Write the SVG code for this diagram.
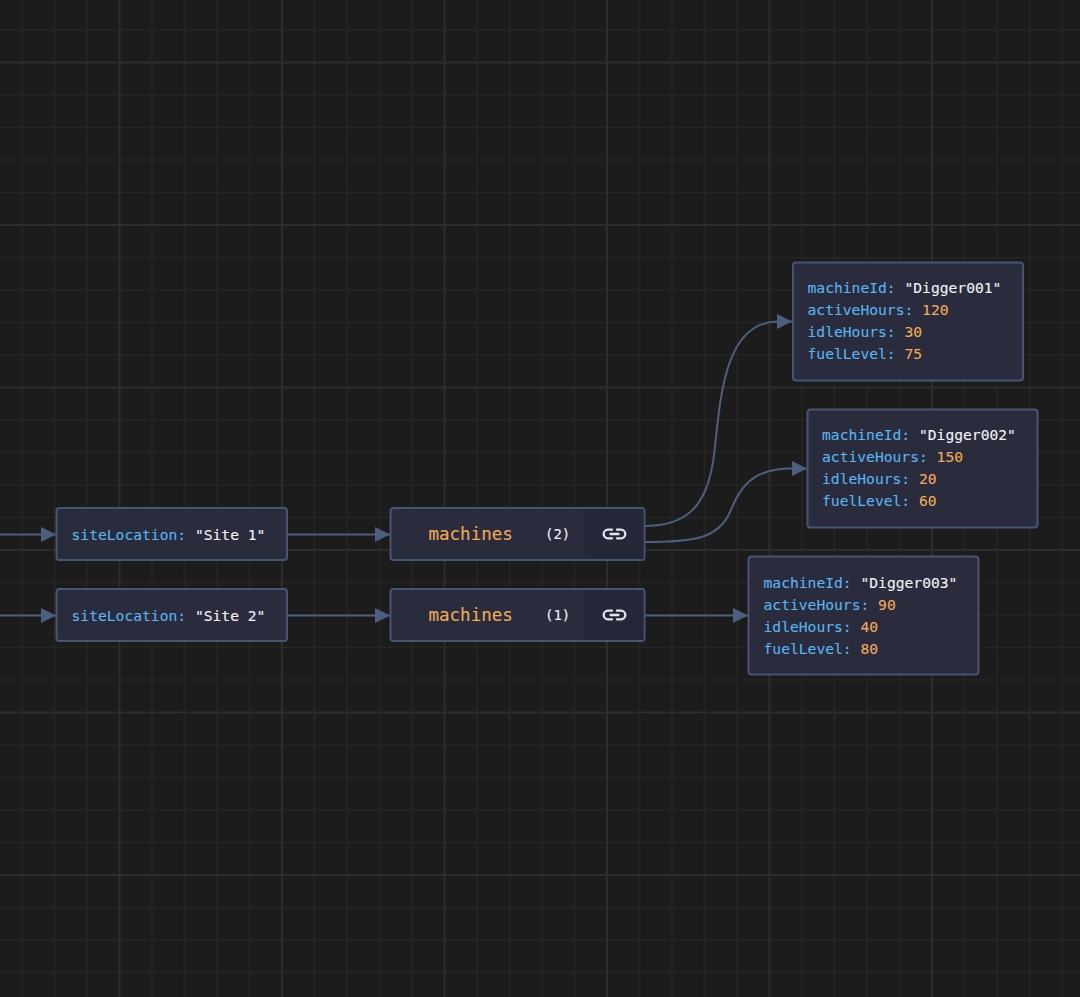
<svg xmlns="http://www.w3.org/2000/svg" width="1080" height="997" viewBox="0 0 1080 997">
  <style>
    .minor { stroke: #262626; stroke-width: 1.5; fill: none; }
    .major { stroke: #2d2d2d; stroke-width: 2; fill: none; }
    .box { fill: #2a2c3e; stroke: #465672; stroke-width: 2; }
    .btn { fill: #26283a; }
    .edge { fill: none; stroke: #4c5f7e; stroke-width: 2; }
    text { font-family: "DejaVu Sans Mono", monospace; font-size: 14.65px; color: #f1f3f5; fill: currentColor; stroke: currentColor; stroke-width: 0.1; }
    .k { color: #59b4f0; }
    .n { color: #f0ab55; }
    .title { font-size: 17.5px; color: #f0ab55; }
    .count { font-size: 14px; }
    .link { fill: none; stroke: #dfe5ec; stroke-width: 2.3; stroke-linecap: round; }
  </style>
  <defs>
    <marker id="arrow" markerUnits="userSpaceOnUse" markerWidth="16" markerHeight="16" refX="15" refY="8" orient="auto">
      <path d="M0 0.500L15 8L0 15.500Z" fill="#4c5f7e"/>
    </marker>
    <g id="link-icon">
      <path class="link" d="M-2.500 -4.300H-6.500A4.300 4.300 0 0 0 -6.500 4.300H-2.500M2.500 -4.300H6.500A4.300 4.300 0 0 1 6.500 4.300H2.500M-4 0H4"/>
    </g>
  </defs>

  <rect width="1080" height="997" fill="#1c1c1c"/>

  <!-- background grid -->
  <g id="grid">
    <path class="minor" d="M22 0V997M54.500 0V997M87 0V997M152 0V997M184.500 0V997M217 0V997M249.500 0V997M314.500 0V997M347 0V997M379.500 0V997M412 0V997M477 0V997M509.500 0V997M542 0V997M574.500 0V997M639.500 0V997M672 0V997M704.500 0V997M737 0V997M802 0V997M834.500 0V997M867 0V997M899.500 0V997M964.500 0V997M997 0V997M1029.500 0V997M1062 0V997"/>
    <path class="minor" d="M0 30H1080M0 95H1080M0 127.500H1080M0 160H1080M0 192.500H1080M0 257.500H1080M0 290H1080M0 322.500H1080M0 355H1080M0 420H1080M0 452.500H1080M0 485H1080M0 517.500H1080M0 582.500H1080M0 615H1080M0 647.500H1080M0 680H1080M0 745H1080M0 777.500H1080M0 810H1080M0 842.500H1080M0 907.500H1080M0 940H1080M0 972.500H1080"/>
    <path class="major" d="M119.500 0V997M282 0V997M444.500 0V997M607 0V997M769.500 0V997M932 0V997"/>
    <path class="major" d="M0 62.500H1080M0 225H1080M0 387.500H1080M0 550H1080M0 712.500H1080M0 875H1080"/>
  </g>

  <!-- connectors -->
  <g id="connectors">
    <path class="edge" marker-end="url(#arrow)" d="M0 534.500H56"/>
    <path class="edge" marker-end="url(#arrow)" d="M0 615.500H56"/>
    <path class="edge" marker-end="url(#arrow)" d="M287 534.500H390"/>
    <path class="edge" marker-end="url(#arrow)" d="M287 615.500H390"/>
    <path class="edge" marker-end="url(#arrow)" d="M644 526C688 526 706 505 713 462C720 419 718 321.500 778 321.500H792"/>
    <path class="edge" marker-end="url(#arrow)" d="M644 542C690 542 718 540 730 512C740 488.700 750 468.500 792 468.500H807"/>
    <path class="edge" marker-end="url(#arrow)" d="M644 615.500H748"/>
  </g>

  <!-- site nodes -->
  <g id="site-1">
    <rect class="box" x="56.500" y="508" width="230.500" height="52" rx="3"/>
    <text x="71.500" y="539.500"><tspan class="k">siteLocation:</tspan> "Site 1"</text>
  </g>
  <g id="site-2">
    <rect class="box" x="56.500" y="589" width="230.500" height="52" rx="3"/>
    <text x="71.500" y="620.500"><tspan class="k">siteLocation:</tspan> "Site 2"</text>
  </g>

  <!-- machine collection nodes -->
  <g id="machines-1">
    <rect class="box" x="390.500" y="508" width="254" height="52" rx="3"/>
    <rect class="btn" x="585" y="509" width="58.500" height="50"/>
    <text class="title" x="428.500" y="540">machines</text>
    <text class="count" x="545" y="539">(2)</text>
    <use href="#link-icon" x="614.500" y="534"/>
  </g>
  <g id="machines-2">
    <rect class="box" x="390.500" y="589" width="254" height="52" rx="3"/>
    <rect class="btn" x="585" y="590" width="58.500" height="50"/>
    <text class="title" x="428.500" y="620.500">machines</text>
    <text class="count" x="545" y="619.500">(1)</text>
    <use href="#link-icon" x="614.500" y="615"/>
  </g>

  <!-- machine detail nodes -->
  <g id="digger-001">
    <rect class="box" x="793" y="262.500" width="230" height="118" rx="3"/>
    <text x="807.500" y="293"><tspan class="k">machineId:</tspan> "Digger001"</text>
    <text x="807.500" y="315"><tspan class="k">activeHours:</tspan> <tspan class="n">120</tspan></text>
    <text x="807.500" y="337"><tspan class="k">idleHours:</tspan> <tspan class="n">30</tspan></text>
    <text x="807.500" y="359"><tspan class="k">fuelLevel:</tspan> <tspan class="n">75</tspan></text>
  </g>
  <g id="digger-002">
    <rect class="box" x="807.500" y="409.500" width="230" height="118" rx="3"/>
    <text x="822" y="440"><tspan class="k">machineId:</tspan> "Digger002"</text>
    <text x="822" y="462"><tspan class="k">activeHours:</tspan> <tspan class="n">150</tspan></text>
    <text x="822" y="484"><tspan class="k">idleHours:</tspan> <tspan class="n">20</tspan></text>
    <text x="822" y="506"><tspan class="k">fuelLevel:</tspan> <tspan class="n">60</tspan></text>
  </g>
  <g id="digger-003">
    <rect class="box" x="748.500" y="556.500" width="230" height="118" rx="3"/>
    <text x="763.500" y="587.500"><tspan class="k">machineId:</tspan> "Digger003"</text>
    <text x="763.500" y="609.500"><tspan class="k">activeHours:</tspan> <tspan class="n">90</tspan></text>
    <text x="763.500" y="631.500"><tspan class="k">idleHours:</tspan> <tspan class="n">40</tspan></text>
    <text x="763.500" y="653.500"><tspan class="k">fuelLevel:</tspan> <tspan class="n">80</tspan></text>
  </g>
</svg>
